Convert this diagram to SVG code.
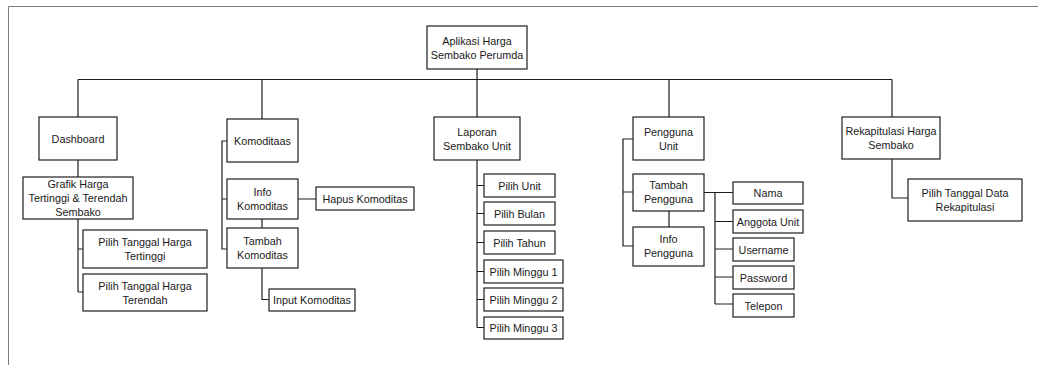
<svg xmlns="http://www.w3.org/2000/svg" width="1038" height="365" viewBox="0 0 1038 365">
  <style>
    .frame { fill: none; stroke: #7a7a7a; stroke-width: 1; }
    .box { fill: #ffffff; stroke: #1e1e1e; stroke-width: 1.2; }
    .link { fill: none; stroke: #1e1e1e; stroke-width: 1.2; }
    text { font-family: "Liberation Sans", Arial, sans-serif; font-size: 10.8px; fill: #1a1a1a; text-anchor: middle; }
  </style>
  <rect width="1038" height="365" fill="#ffffff"/>
  <path class="frame" d="M8.5 365 V6.5 H1038"/>

  <g id="connectors">
    <path class="link" d="M477 69 V79.5"/>
    <path class="link" d="M78 79.5 H892"/>
    <path class="link" d="M78 79.5 V117 M262 79.5 V119 M477 79.5 V117 M669 79.5 V117 M892 79.5 V117"/>
    <!-- Dashboard branch -->
    <path class="link" d="M78 160 V177 M78 219 V292 M78 249 H83 M78 292 H83"/>
    <!-- Komoditas branch -->
    <path class="link" d="M227 141 H222 V249 H227 M222 199 H227 M262 219 V228 M298 199 H316 M262 268 V299.5 H269"/>
    <!-- Laporan branch -->
    <path class="link" d="M477 160 V327.5 M477 185.5 H484 M477 213.5 H484 M477 242.5 H484 M477 271.5 H484 M477 299.5 H484 M477 327.5 H484"/>
    <!-- Pengguna branch -->
    <path class="link" d="M633 139 H623 V246 H633 M623 192 H633 M669 211 V227 M704 192.5 H733 M715 192.5 V304 M715 221.5 H733 M715 249 H733 M715 277 H733 M715 304 H733"/>
    <!-- Rekapitulasi branch -->
    <path class="link" d="M892 159 V198 H908"/>
  </g>

  <g id="aplikasi">
    <rect class="box" x="427" y="26" width="100" height="43"/>
    <text x="477" y="45">Aplikasi Harga</text>
    <text x="477" y="59">Sembako Perumda</text>
  </g>

  <g id="dashboard">
    <rect class="box" x="39" y="117" width="78" height="43"/>
    <text x="78" y="142.5">Dashboard</text>
  </g>
  <g id="grafik">
    <rect class="box" x="23" y="177" width="110" height="42"/>
    <text x="78" y="188">Grafik Harga</text>
    <text x="78" y="202">Tertinggi &amp; Terendah</text>
    <text x="78" y="216">Sembako</text>
  </g>
  <g id="tanggal-tertinggi">
    <rect class="box" x="83" y="230" width="124" height="38"/>
    <text x="145" y="246">Pilih Tanggal Harga</text>
    <text x="145" y="260">Tertinggi</text>
  </g>
  <g id="tanggal-terendah">
    <rect class="box" x="83" y="274" width="124" height="37"/>
    <text x="145" y="289.5">Pilih Tanggal Harga</text>
    <text x="145" y="303.5">Terendah</text>
  </g>

  <g id="komoditaas">
    <rect class="box" x="227" y="119" width="71" height="43"/>
    <text x="262.5" y="144.5">Komoditaas</text>
  </g>
  <g id="info-komoditas">
    <rect class="box" x="227" y="179" width="71" height="40"/>
    <text x="262.5" y="196">Info</text>
    <text x="262.5" y="210">Komoditas</text>
  </g>
  <g id="hapus-komoditas">
    <rect class="box" x="316" y="187" width="98" height="23"/>
    <text x="365" y="202.5">Hapus Komoditas</text>
  </g>
  <g id="tambah-komoditas">
    <rect class="box" x="227" y="228" width="71" height="40"/>
    <text x="262.5" y="245">Tambah</text>
    <text x="262.5" y="259">Komoditas</text>
  </g>
  <g id="input-komoditas">
    <rect class="box" x="269" y="289" width="86" height="22"/>
    <text x="312" y="304">Input Komoditas</text>
  </g>

  <g id="laporan">
    <rect class="box" x="434" y="117" width="86" height="43"/>
    <text x="477" y="135.5">Laporan</text>
    <text x="477" y="149.5">Sembako Unit</text>
  </g>
  <g id="pilih-unit">
    <rect class="box" x="484" y="174" width="71" height="23"/>
    <text x="519.5" y="189.5">Pilih Unit</text>
  </g>
  <g id="pilih-bulan">
    <rect class="box" x="484" y="202" width="71" height="23"/>
    <text x="519.5" y="217.5">Pilih Bulan</text>
  </g>
  <g id="pilih-tahun">
    <rect class="box" x="484" y="231" width="71" height="23"/>
    <text x="519.5" y="246.5">Pilih Tahun</text>
  </g>
  <g id="pilih-minggu-1">
    <rect class="box" x="484" y="260" width="79" height="23"/>
    <text x="523.5" y="275.5">Pilih Minggu 1</text>
  </g>
  <g id="pilih-minggu-2">
    <rect class="box" x="484" y="288" width="79" height="23"/>
    <text x="523.5" y="303.5">Pilih Minggu 2</text>
  </g>
  <g id="pilih-minggu-3">
    <rect class="box" x="484" y="317" width="79" height="22"/>
    <text x="523.5" y="331.5">Pilih Minggu 3</text>
  </g>

  <g id="pengguna-unit">
    <rect class="box" x="633" y="117" width="71" height="43"/>
    <text x="668.5" y="135.5">Pengguna</text>
    <text x="668.5" y="149.5">Unit</text>
  </g>
  <g id="tambah-pengguna">
    <rect class="box" x="633" y="174" width="71" height="37"/>
    <text x="668.5" y="189">Tambah</text>
    <text x="668.5" y="203">Pengguna</text>
  </g>
  <g id="info-pengguna">
    <rect class="box" x="633" y="227" width="71" height="39"/>
    <text x="668.5" y="243">Info</text>
    <text x="668.5" y="257">Pengguna</text>
  </g>
  <g id="nama">
    <rect class="box" x="733" y="182" width="70" height="22"/>
    <text x="768" y="197">Nama</text>
  </g>
  <g id="anggota-unit">
    <rect class="box" x="733" y="210" width="70" height="23"/>
    <text x="768" y="225.5">Anggota Unit</text>
  </g>
  <g id="username">
    <rect class="box" x="733" y="238" width="61" height="23"/>
    <text x="763.5" y="253.5">Username</text>
  </g>
  <g id="password">
    <rect class="box" x="733" y="266" width="61" height="23"/>
    <text x="763.5" y="281.5">Password</text>
  </g>
  <g id="telepon">
    <rect class="box" x="733" y="294" width="61" height="23"/>
    <text x="763.5" y="309.5">Telepon</text>
  </g>

  <g id="rekapitulasi">
    <rect class="box" x="842" y="117" width="98" height="42"/>
    <text x="891" y="135">Rekapitulasi Harga</text>
    <text x="891" y="149">Sembako</text>
  </g>
  <g id="tanggal-rekapitulasi">
    <rect class="box" x="908" y="179" width="114" height="42"/>
    <text x="965" y="197">Pilih Tanggal Data</text>
    <text x="965" y="211">Rekapitulasi</text>
  </g>
</svg>
